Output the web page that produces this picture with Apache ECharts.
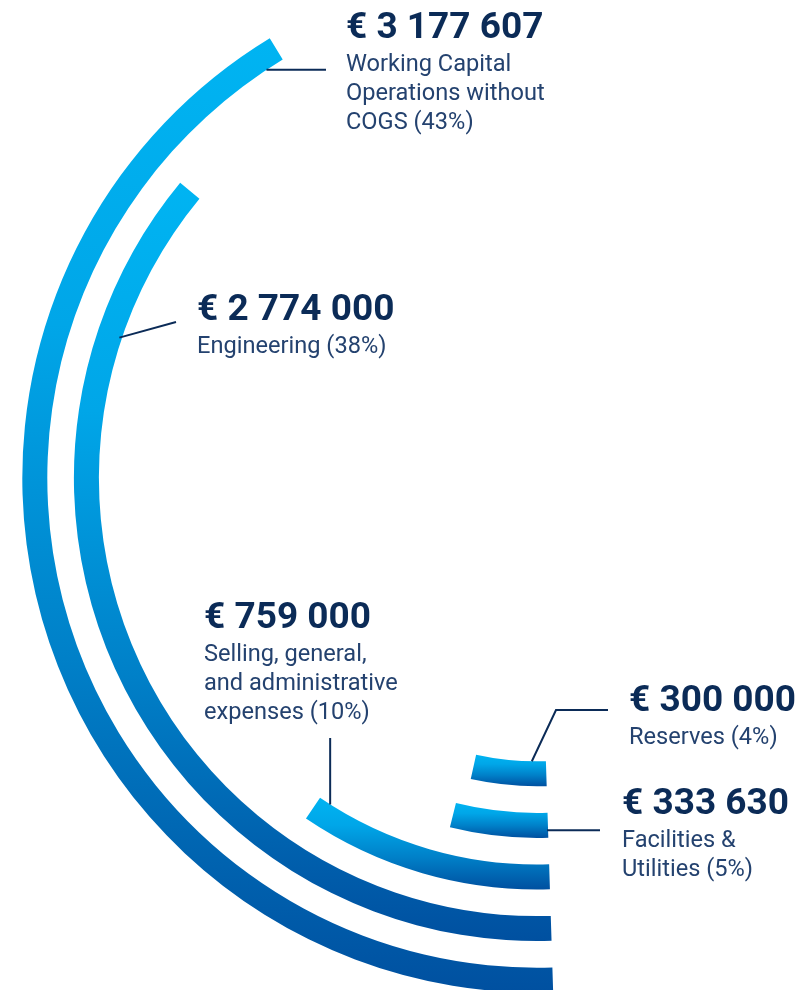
<!DOCTYPE html>
<html>
<head>
<meta charset="utf-8">
<script src="https://cdn.jsdelivr.net/npm/echarts@6.0.0/dist/echarts.min.js"></script>
<style>
html, body { margin: 0; padding: 0; background: #fff; }
#budgetChart { width: 803px; height: 990px; }
</style>
</head>
<body>
<div id="budgetChart"></div>
<script>
// inner ring first
var categories = ['Reserves', 'Facilities & Utilities', 'Selling, general, and administrative expenses', 'Engineering', 'Working Capital Operations without COGS'];
var nameLines = ['Reserves', 'Facilities &\nUtilities', 'Selling, general,\nand administrative\nexpenses', 'Engineering', 'Working Capital\nOperations without\nCOGS'];
var amounts = [300000, 333630, 759000, 2774000, 3177607];
var shares = [4, 5, 10, 38, 43];

var NAVY = '#0b2b57';
var TEXT = '#24426f';
var CENTER = [537, 478];

// where each label sits (left x, middle of the big number)
var labelPos = [[629, 698], [622, 801], [204, 615], [197, 307], [346, 25]];
// leader lines: where they leave the arc and where they go
var leaders = [
	{frac: 0.2, off: -12.5, kind: 'p', pts: [[556, 710], [608, 710]]},
	{frac: 0.01, off: 5, kind: 'h', to: 600},
	{frac: 0.95, off: -12.5, kind: 'v', to: 738},
	{frac: 0.84, off: -10, kind: 'p', pts: [[176, 322]]},
	{frac: 0.985, off: -12.5, kind: 'h', to: 326}
];

var budget = {
	chart: null,
	init: function(){
		budget.chart = echarts.init(document.getElementById('budgetChart'));
		budget.chart.setOption(budget.getOption());
		budget.chart.setOption({graphic: budget.getLabels()});
	},
	getOption: function(){
		var option = {
			animation: false,
			polar: {
				center: CENTER,
				radius: [270, 528]
			},
			angleAxis: {
				type: 'value',
				min: 0,
				max: 7600000,
				startAngle: 271.8,
				clockwise: true,
				show: false
			},
			radiusAxis: {
				type: 'category',
				data: categories,
				show: false
			},
			series: [
				{
					type: 'bar',
					coordinateSystem: 'polar',
					data: amounts,
					barWidth: 25,
					itemStyle: {
						color: {
							type: 'linear', x: 0, y: 0, x2: 0, y2: 1,
							colorStops: [
								{offset: 0, color: '#00b4f2'},
								{offset: 0.3, color: '#00a6e8'},
								{offset: 0.65, color: '#0080c8'},
								{offset: 1, color: '#0050a0'}
							]
						}
					}
				}
			]
		};
		return option;
	},
	money: function(n){
		return '€ ' + String(n).replace(/\B(?=(\d{3})+(?!\d))/g, ' ');
	},
	arcPoint: function(i, frac, off){
		var p = budget.chart.convertToPixel({seriesIndex: 0}, [i, amounts[i] * frac]);
		var dx = p[0] - CENTER[0], dy = p[1] - CENTER[1];
		var r = Math.sqrt(dx * dx + dy * dy);
		var k = (r + off) / r;
		return [CENTER[0] + dx * k, CENTER[1] + dy * k];
	},
	getLabels: function(){
		var els = [];
		for (var i = 0; i < amounts.length; i++) {
			var x = labelPos[i][0], y = labelPos[i][1];
			// canvas middle sits a little above the cap middle, so nudge down
			els.push({
				type: 'text', x: x, y: y + 4, z: 10,
				style: {text: budget.money(amounts[i]), font: 'bold 37px Roboto', fill: NAVY, verticalAlign: 'middle'}
			});
			els.push({
				type: 'text', x: x, y: y + 37 - 14.5 + 3, z: 10,
				style: {text: nameLines[i] + ' (' + shares[i] + '%)', font: '23.6px Roboto', fill: TEXT, lineHeight: 29, verticalAlign: 'top'}
			});

			var ld = leaders[i];
			var s = budget.arcPoint(i, ld.frac, ld.off);
			var pts = [s];
			if (ld.kind == 'h') pts.push([ld.to, s[1]]);
			else if (ld.kind == 'v') pts.push([s[0], ld.to]);
			else pts = pts.concat(ld.pts);
			els.push({
				type: 'polyline', z: 10,
				shape: {points: pts},
				style: {stroke: NAVY, lineWidth: 2, fill: null}
			});
		}
		return els;
	}
};

budget.init();
</script>
</body>
</html>
